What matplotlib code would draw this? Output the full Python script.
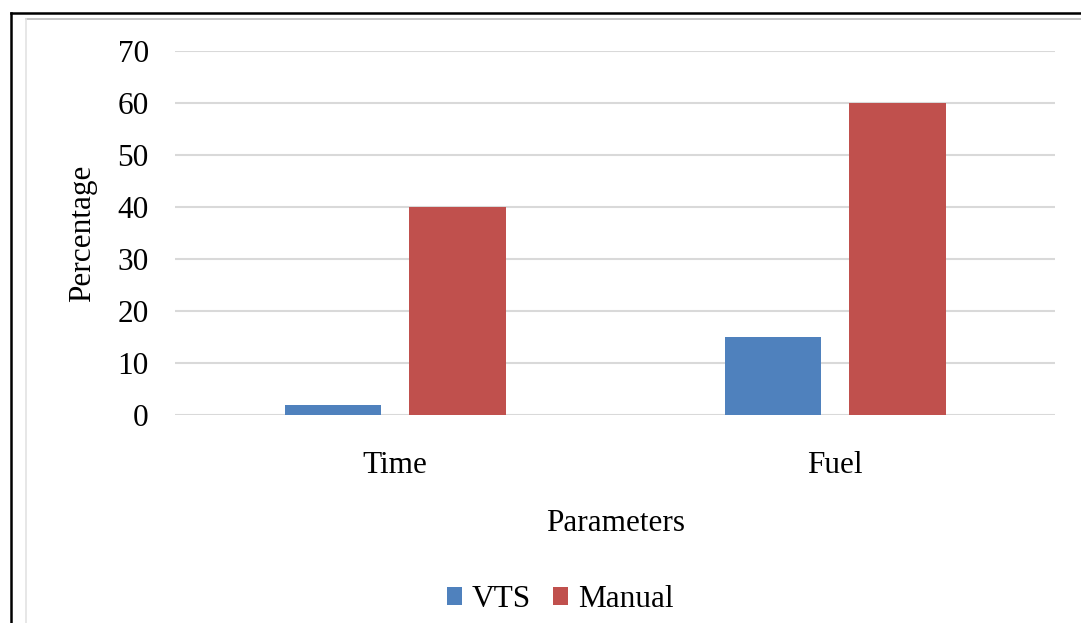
import numpy as np
import matplotlib.pyplot as plt
from matplotlib.lines import Line2D

plt.rcParams['font.family'] = ['Liberation Serif', 'DejaVu Serif']

categories = ['Time', 'Fuel']
vts = [2, 15]
manual = [40, 60]
yticks = [0, 10, 20, 30, 40, 50, 60, 70]

blue = '#4F81BD'
red = '#C0504D'

fig = plt.figure(figsize=(10.81, 6.23), dpi=100)
ax = fig.add_axes([0.162, 0.334, 0.814, 0.584])

x = np.arange(len(categories))
w = 0.22
off = 0.141
ax.bar(x - off, vts, w, color=blue, label='VTS', zorder=3)
ax.bar(x + off, manual, w, color=red, label='Manual', zorder=3)

ax.set_xlim(-0.5, 1.5)
ax.set_ylim(0, 70)
ax.set_yticks(yticks)
ax.set_xticks(x)
ax.set_xticklabels(categories)
ax.grid(axis='y', color='#D9D9D9', linewidth=1.5, zorder=0)
ax.set_axisbelow(True)
for s in ax.spines.values():
    s.set_visible(False)
fs = 22.5
ax.tick_params(axis='both', length=0, labelsize=fs)
ax.tick_params(axis='y', pad=19)
ax.tick_params(axis='x', pad=26)
ax.set_xlabel('Parameters', fontsize=fs, labelpad=21)
ax.set_ylabel('Percentage', fontsize=fs, labelpad=15)

fig.legend(loc='center', bbox_to_anchor=(0.518, 0.037), ncol=2, frameon=False,
           fontsize=fs, handlelength=0.5, handleheight=0.5, handletextpad=0.3,
           columnspacing=0.7)

# frame lines of the screenshot
H = 623.0
W = 1081.0
fig.add_artist(Line2D([11 / W, 1], [1 - 13 / H, 1 - 13 / H], color='black', lw=1.8))
fig.add_artist(Line2D([11 / W, 11 / W], [0, 1 - 13 / H], color='black', lw=1.8))
fig.add_artist(Line2D([26 / W, 1], [1 - 19 / H, 1 - 19 / H], color='#BBBBBB', lw=1.2))
fig.add_artist(Line2D([26 / W, 26 / W], [0, 1 - 19 / H], color='#E3E3E3', lw=1.2))

fig.savefig('out.png', dpi=100)
